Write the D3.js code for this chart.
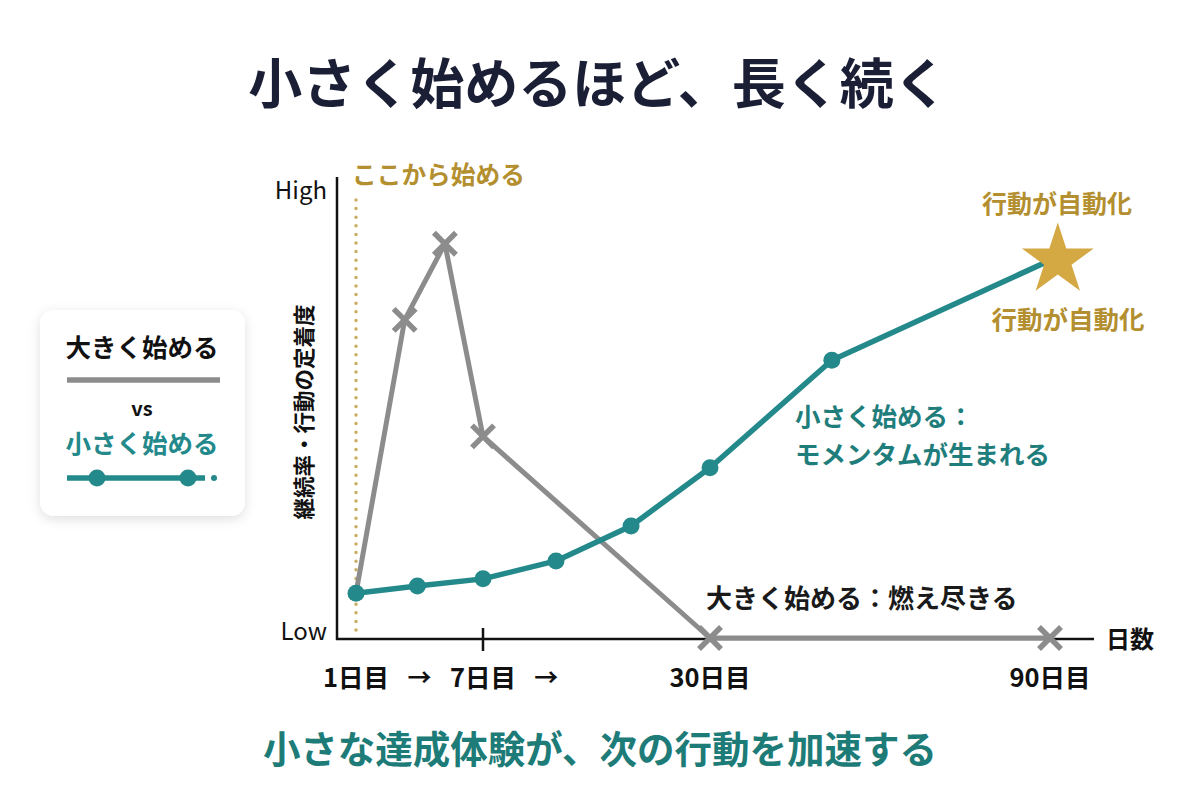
<!DOCTYPE html>
<html><head><meta charset="utf-8">
<script src="https://cdn.jsdelivr.net/npm/d3@7"></script>
<style>
html,body{margin:0;padding:0;background:#fff;}
svg{display:block;font-family:"Noto Sans CJK JP","Noto Sans",sans-serif;}
</style></head>
<body>
<svg id="chart" width="1200" height="805"></svg>
<script>
// ---- data ----
const title = "小さく始めるほど、長く続く";
const subtitle = "小さな達成体験が、次の行動を加速する";
const tickDays = [1, 7, 30, 90];
const tickLabels = ["1日目", "7日目", "30日目", "90日目"];
const arrowDays = [4, 13.4];
const smallDays = [1, 3.9, 7, 14.4, 22, 30, 51.5, 91.2];
const smallValues = [10, 11.6, 13.2, 17.2, 25, 38, 62, 85];
const bigDays = [1, 3.3, 5.2, 7, 30, 90];
const bigValues = [10, 71, 88, 45, 0, 0];
const yLabels = ["Low", "High"];
const yTickValues = [1.5, 100];

const TEAL = "#24898a", GRAY = "#8c8c8c", GOLD = "#b38f2f", STAR = "#d4a843", NAVY = "#1b1f36";

const svg = d3.select("#chart");
const defs = svg.append("defs");
const f = defs.append("filter").attr("id","sh").attr("x","-20%").attr("y","-20%").attr("width","140%").attr("height","140%");
f.append("feDropShadow").attr("dx",0).attr("dy",3).attr("stdDeviation",6).attr("flood-color","#000").attr("flood-opacity",0.13);

const x = d3.scaleLinear().domain(tickDays).range([356, 483, 710, 1050]);
const y = d3.scaleLinear().domain([0, 100]).range([638, 190]);

// title
svg.append("text").attr("x",598).attr("y",104).attr("text-anchor","middle")
  .attr("font-size",54).attr("font-weight",700).attr("fill",NAVY).text(title);
svg.append("text").attr("x",600).attr("y",763).attr("text-anchor","middle")
  .attr("font-size",37.5).attr("font-weight",700).attr("fill","#1d7b78").text(subtitle);

// axes
svg.append("line").attr("x1",337).attr("x2",337).attr("y1",177).attr("y2",640).attr("stroke","#111").attr("stroke-width",2.5);
svg.append("line").attr("x1",336).attr("x2",1094).attr("y1",639).attr("y2",639).attr("stroke","#111").attr("stroke-width",2.5);
svg.append("line").attr("x1",x(7)).attr("x2",x(7)).attr("y1",628).attr("y2",651).attr("stroke","#111").attr("stroke-width",2.5);

svg.append("text").attr("x",1106).attr("y",648).attr("font-size",24).attr("font-weight",700).attr("fill","#111").text("日数");

yLabels.forEach((t,i)=>{
  svg.append("text").attr("x",327).attr("y",y(yTickValues[i])+9).attr("text-anchor","end")
    .attr("font-size",24).attr("fill","#111").text(t);
});

svg.append("text").attr("transform","translate(312,412) rotate(-90)").attr("text-anchor","middle")
  .attr("font-size",21.5).attr("font-weight",700).attr("fill","#111").text("継続率・行動の定着度");

// x tick labels
tickDays.forEach((d,i)=>{
  svg.append("text").attr("x",x(d)).attr("y",687).attr("text-anchor","middle")
    .attr("font-size",25.5).attr("font-weight",700).attr("fill","#111").text(tickLabels[i]);
});
arrowDays.forEach(d=>{
  svg.append("text").attr("x",x(d)).attr("y",686).attr("text-anchor","middle")
    .attr("font-size",24).attr("font-weight",700).attr("fill","#111").text("→");
});

// start dotted line
svg.append("line").attr("x1",x(1)).attr("x2",x(1)).attr("y1",200).attr("y2",638)
  .attr("stroke","#c9ad63").attr("stroke-width",3.5).attr("stroke-linecap","round").attr("stroke-dasharray","0 8.6");
svg.append("text").attr("x",352).attr("y",184).attr("font-size",24.7).attr("font-weight",700).attr("fill",GOLD).text("ここから始める");

const line = d3.line().x(d=>x(d[0])).y(d=>y(d[1]));

// big start series
const bigData = bigDays.map((d,i)=>[d,bigValues[i]]);
svg.append("path").attr("d",line(bigData)).attr("fill","none").attr("stroke",GRAY).attr("stroke-width",5).attr("stroke-linejoin","round");
const xs = 11;
bigData.slice(1).forEach(p=>{
  const cx=x(p[0]), cy=y(p[1]);
  svg.append("path").attr("d",`M${cx-xs},${cy-xs}L${cx+xs},${cy+xs}M${cx-xs},${cy+xs}L${cx+xs},${cy-xs}`)
    .attr("stroke",GRAY).attr("stroke-width",5.5);
});

// small start series
const smallData = smallDays.map((d,i)=>[d,smallValues[i]]);
svg.append("path").attr("d",line(smallData)).attr("fill","none").attr("stroke",TEAL).attr("stroke-width",5.5).attr("stroke-linejoin","round");
svg.selectAll(".pt").data(smallData.slice(0,-1)).enter().append("circle")
  .attr("cx",d=>x(d[0])).attr("cy",d=>y(d[1])).attr("r",8.5).attr("fill",TEAL);
const last = smallData[smallData.length-1];
svg.append("path").attr("d",d3.symbol(d3.symbolStar,1600)())
  .attr("transform",`translate(${x(last[0])+1},${y(last[1])+3})`).attr("fill",STAR);

// annotations
svg.append("text").attr("x",1057).attr("y",213).attr("text-anchor","middle").attr("font-size",25).attr("font-weight",700).attr("fill",GOLD).text("行動が自動化");
svg.append("text").attr("x",1068).attr("y",329).attr("text-anchor","middle").attr("font-size",25.5).attr("font-weight",700).attr("fill",GOLD).text("行動が自動化");
svg.append("text").attr("x",795).attr("y",426).attr("font-size",25.5).attr("font-weight",700).attr("fill","#1f7e7c").text("小さく始める：");
svg.append("text").attr("x",795).attr("y",464).attr("font-size",25.5).attr("font-weight",700).attr("fill","#1f7e7c").text("モメンタムが生まれる");
svg.append("text").attr("x",706).attr("y",608).attr("font-size",26).attr("font-weight",700).attr("fill","#1a1a1a").text("大きく始める：燃え尽きる");

// legend
const lg = svg.append("g");
lg.append("rect").attr("x",40).attr("y",310).attr("width",205).attr("height",206).attr("rx",14)
  .attr("fill","#fff").attr("filter","url(#sh)");
lg.append("text").attr("x",142).attr("y",357).attr("text-anchor","middle").attr("font-size",25.5).attr("font-weight",700).attr("fill","#111").text("大きく始める");
lg.append("line").attr("x1",67).attr("x2",220).attr("y1",380).attr("y2",380).attr("stroke",GRAY).attr("stroke-width",5.5);
lg.append("text").attr("x",142).attr("y",416).attr("text-anchor","middle").attr("font-size",20).attr("font-weight",700).attr("fill","#111").text("vs");
lg.append("text").attr("x",142).attr("y",453).attr("text-anchor","middle").attr("font-size",25.5).attr("font-weight",700).attr("fill",TEAL).text("小さく始める");
lg.append("line").attr("x1",67).attr("x2",205).attr("y1",478).attr("y2",478).attr("stroke",TEAL).attr("stroke-width",5.5);
[97,188].forEach(cx=>lg.append("circle").attr("cx",cx).attr("cy",478).attr("r",8.5).attr("fill",TEAL));
lg.append("circle").attr("cx",214).attr("cy",478).attr("r",3).attr("fill",TEAL);
</script>
</body></html>
